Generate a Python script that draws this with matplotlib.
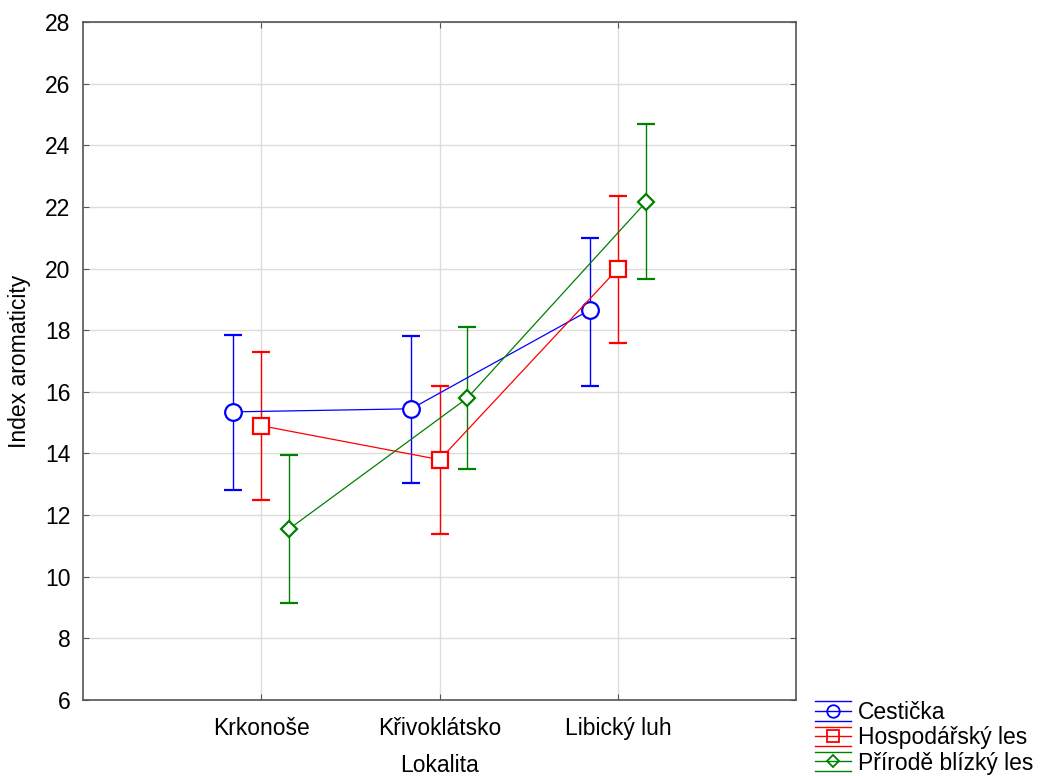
import numpy as np
import matplotlib.pyplot as plt
from matplotlib.legend_handler import HandlerBase
from matplotlib.lines import Line2D

plt.rcParams['font.family'] = ['Liberation Sans', 'DejaVu Sans']

lokality = ['Krkonoše', 'Křivoklátsko', 'Libický luh']
skupiny = ['Cestička', 'Hospodářský les', 'Přírodě blízký les']

# průměry a meze intervalů
prumer = [
    [15.35, 15.45, 18.65],
    [14.9, 13.8, 20.0],
    [11.55, 15.8, 22.15],
]
dolni = [
    [12.8, 13.05, 16.2],
    [12.5, 11.4, 17.6],
    [9.15, 13.5, 19.65],
]
horni = [
    [17.85, 17.8, 21.0],
    [17.3, 16.2, 22.35],
    [13.95, 18.1, 24.7],
]

barvy = ['#0000ff', '#ff0000', '#008000']
znacky = ['o', 's', 'D']
velikosti = [12, 11, 8.5]
posun = [-0.16, 0.0, 0.155]


class HandlerStat(HandlerBase):
    # tri vodorovne cary a znacka uprostred
    def __init__(self, color, marker, ms):
        super().__init__()
        self.color, self.marker, self.ms = color, marker, ms

    def create_artists(self, legend, orig_handle, xdescent, ydescent,
                       width, height, fontsize, trans):
        y0 = height / 2 - ydescent
        d = height * 0.6
        arts = []
        for yy in (y0 + d, y0, y0 - d):
            arts.append(Line2D([-xdescent, width - xdescent], [yy, yy],
                               color=self.color, lw=1, transform=trans))
        arts.append(Line2D([(width - xdescent) / 2], [y0], color=self.color,
                           marker=self.marker, markersize=self.ms,
                           markerfacecolor='none', markeredgewidth=1.3,
                           transform=trans))
        return arts


fig = plt.figure(figsize=(10.4, 7.76), dpi=100)
ax = fig.add_axes([0.0798, 0.0979, 0.686, 0.8737])

x = np.arange(len(lokality))
handles = []
hmap = {}
for i in range(3):
    xs = x + posun[i]
    y = np.array(prumer[i])
    err = [y - np.array(dolni[i]), np.array(horni[i]) - y]
    ax.errorbar(xs, y, yerr=err, color=barvy[i], lw=0.9, elinewidth=1.0,
                capsize=6.5, capthick=0.8, marker=znacky[i],
                markersize=velikosti[i], markerfacecolor='white',
                markeredgewidth=1.6, zorder=3)
    h = Line2D([], [], color=barvy[i], label=skupiny[i])
    handles.append(h)
    hmap[h] = HandlerStat(barvy[i], znacky[i], velikosti[i] * 0.75)

ax.set_xlim(-1, 3)
ax.set_ylim(6, 28)
ax.set_yticks(np.arange(6, 29, 2))
ax.set_xticks(x)
ax.set_xticklabels(lokality)
ax.grid(True, color='#dddddd', lw=1)
ax.set_axisbelow(True)
ax.tick_params(direction='in', length=4, labelsize=16.5, pad=9,
               colors='#555555', labelcolor='black', top=True, right=True)
ax.tick_params(axis='x', pad=12)
for s in ax.spines.values():
    s.set_color('#555555')
    s.set_linewidth(1.2)

ax.set_xlabel('Lokalita', fontsize=16.5, labelpad=10)
ax.set_ylabel('Index aromaticity', fontsize=16.5, labelpad=10)

fig.legend(handles=handles, handler_map=hmap, loc='lower left',
           bbox_to_anchor=(0.779, -0.004), frameon=False, fontsize=16.5,
           handlelength=1.6, handletextpad=0.3, labelspacing=0.1,
           borderpad=0.2, borderaxespad=0)

fig.savefig('out.png', dpi=100)
